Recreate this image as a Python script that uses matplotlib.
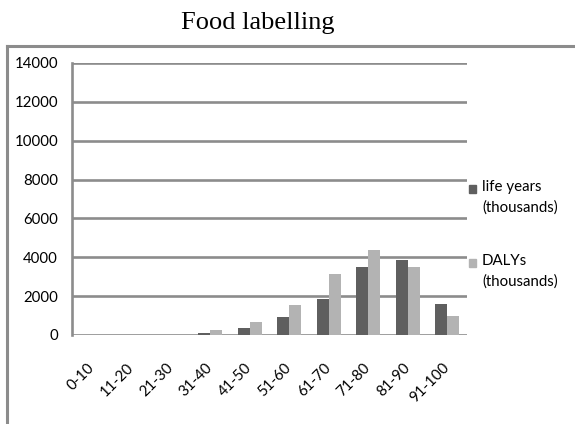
import numpy as np
from matplotlib import pyplot as plt
from matplotlib.patches import Rectangle
from matplotlib.lines import Line2D

plt.rcParams['font.family'] = ['Lato', 'DejaVu Sans']

ages = ['0-10', '11-20', '21-30', '31-40', '41-50', '51-60',
        '61-70', '71-80', '81-90', '91-100']
life_years = [0, 0, 0, 100, 360, 940, 1870, 3480, 3840, 1600]
dalys = [0, 0, 0, 240, 680, 1530, 3120, 4400, 3480, 1000]
yticks = [0, 2000, 4000, 6000, 8000, 10000, 12000, 14000]

dark = '#5f5f5f'
light = '#b3b3b3'
grid = '#8c8c8c'

W, H = 575, 424
fig = plt.figure(figsize=(W / 100, H / 100), dpi=100)
ax = fig.add_axes([72 / W, 1 - 335 / H, (467 - 72) / W, (335 - 63) / H])

x = np.arange(len(ages))
bw = 0.3
ax.bar(x - bw / 2, life_years, bw, color=dark, zorder=3)
ax.bar(x + bw / 2, dalys, bw, color=light, zorder=3)

ax.set_xlim(-0.5, len(ages) - 0.5)
ax.set_ylim(0, 14000)
ax.set_yticks(yticks)
ax.set_yticklabels([str(v) for v in yticks], fontsize=10.8)
ax.set_xticks(x)
ax.set_xticklabels(ages, fontsize=10.8, rotation=45, ha='right',
                   va='center', rotation_mode='anchor')
ax.tick_params(axis='both', length=0)
ax.tick_params(axis='y', pad=10)
ax.tick_params(axis='x', pad=22)

for v in yticks:
    ax.axhline(v, color=grid, lw=1.9, zorder=2)
for s in ['top', 'right', 'bottom']:
    ax.spines[s].set_visible(False)
ax.spines['left'].set_color(grid)
ax.spines['left'].set_linewidth(1.9)

# chart frame (runs off the bottom and right edges)
fig.add_artist(Line2D([7 / W, 7 / W], [0, 1 - 46 / H], color=grid, lw=2.2,
                      transform=fig.transFigure))
fig.add_artist(Line2D([7 / W, 1], [1 - 46 / H, 1 - 46 / H], color=grid, lw=2.2,
                      transform=fig.transFigure))

fig.text(258 / W, 1 - 23 / H, 'Food labelling', family='Liberation Serif',
         fontsize=19, ha='center', va='center')

# legend
for col, label, ytop in [(dark, 'life years\n(thousands)', 185),
                         (light, 'DALYs\n(thousands)', 259)]:
    fig.add_artist(Rectangle((469 / W, 1 - (ytop + 8) / H), 7 / W, 8 / H,
                             color=col, transform=fig.transFigure))
    fig.text(482 / W, 1 - (ytop - 5) / H, label, fontsize=10.8, ha='left',
             va='top', linespacing=1.55)

plt.savefig('out.png', dpi=100)
